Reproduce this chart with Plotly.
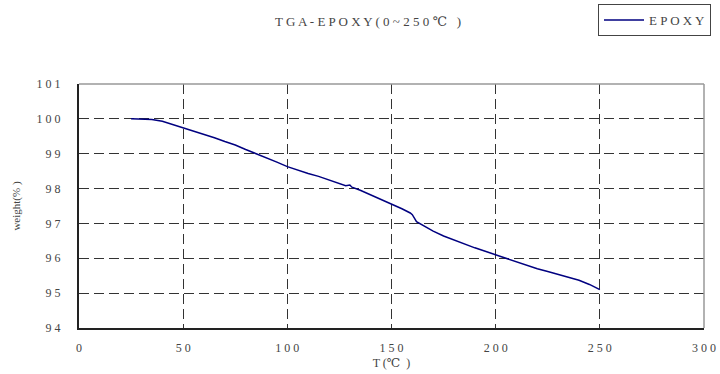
import plotly.graph_objects as go

temp_c = [25, 30, 35, 40, 45, 50, 55, 60, 65, 70, 75, 80, 85, 90, 95, 100,
          105, 110, 115, 120, 125, 128, 130, 131, 135, 140, 145, 150, 155,
          159, 160, 162, 165, 170, 175, 180, 185, 190, 195, 200, 205, 210,
          215, 220, 225, 230, 235, 240, 245, 250]
weight_pct = [100.00, 100.00, 99.98, 99.93, 99.84, 99.74, 99.64, 99.55, 99.46,
              99.35, 99.25, 99.12, 99.00, 98.90, 98.76, 98.63, 98.52, 98.43,
              98.35, 98.24, 98.15, 98.08, 98.10, 98.04, 97.95, 97.82, 97.68,
              97.55, 97.42, 97.30, 97.25, 97.05, 96.95, 96.78, 96.64, 96.52,
              96.41, 96.30, 96.20, 96.10, 96.00, 95.88, 95.79, 95.70, 95.62,
              95.54, 95.45, 95.37, 95.25, 95.10]

x_ticks = [0, 50, 100, 150, 200, 250, 300]
y_ticks = [94, 95, 96, 97, 98, 99, 100, 101]

def spaced(s):
    return " ".join(list(str(s)))

FONT = "Liberation Serif, DejaVu Serif, serif"
TXT = "#444444"

fig = go.Figure()
fig.add_trace(go.Scatter(
    x=temp_c, y=weight_pct, mode="lines", name=spaced("EPOXY"),
    line=dict(color="#000080", width=1.5),
))

grid = dict(showgrid=True, gridcolor="#333333", gridwidth=1, griddash="10px,5px",
            zeroline=False, showline=True, linecolor="#222222", linewidth=2,
            tickfont=dict(family=FONT, size=12, color=TXT))

fig.update_layout(
    width=720, height=374,
    margin=dict(l=79, r=16, t=84, b=46, autoexpand=False),
    paper_bgcolor="white", plot_bgcolor="white",
    font=dict(family=FONT, color=TXT),
    xaxis=dict(range=[0, 300], tickvals=x_ticks,
               ticktext=[spaced(v) for v in x_ticks], ticks="", ticklabelstandoff=8,
               title=dict(text="T (℃\u00a0\u00a0)", font=dict(family=FONT, size=12, color=TXT), standoff=4),
               **grid),
    yaxis=dict(range=[94, 101], tickvals=y_ticks,
               ticktext=[spaced(v) for v in y_ticks],
               ticks="outside", ticklen=14, tickcolor="rgba(0,0,0,0)",
               title=dict(text="weight(% )", font=dict(family=FONT, size=11, color=TXT), standoff=14),
               **grid),
    showlegend=True,
    legend=dict(x=0.8304, y=1.328, xanchor="left", yanchor="top",
                bordercolor="#444444", borderwidth=1, bgcolor="white",
                font=dict(family=FONT, size=13, color=TXT),
                itemwidth=40, tracegroupgap=0),
    annotations=[dict(text=spaced("TGA-EPOXY(0~250℃") + "\u00a0\u00a0\u00a0)",
                      xref="paper", yref="paper", x=0.4624, y=1.255,
                      xanchor="center", yanchor="middle", showarrow=False,
                      font=dict(family=FONT, size=13, color=TXT))],
    shapes=[
        dict(type="line", xref="paper", yref="paper", x0=0, x1=1, y0=1, y1=1,
             line=dict(color="#999999", width=1.5), layer="above"),
        dict(type="line", xref="paper", yref="paper", x0=1, x1=1, y0=0, y1=1,
             line=dict(color="#999999", width=1.5), layer="above"),
    ],
)

fig.write_html("out.html", config={"displayModeBar": False},
               post_script="document.body.style.margin='0';document.body.style.overflow='hidden';")
